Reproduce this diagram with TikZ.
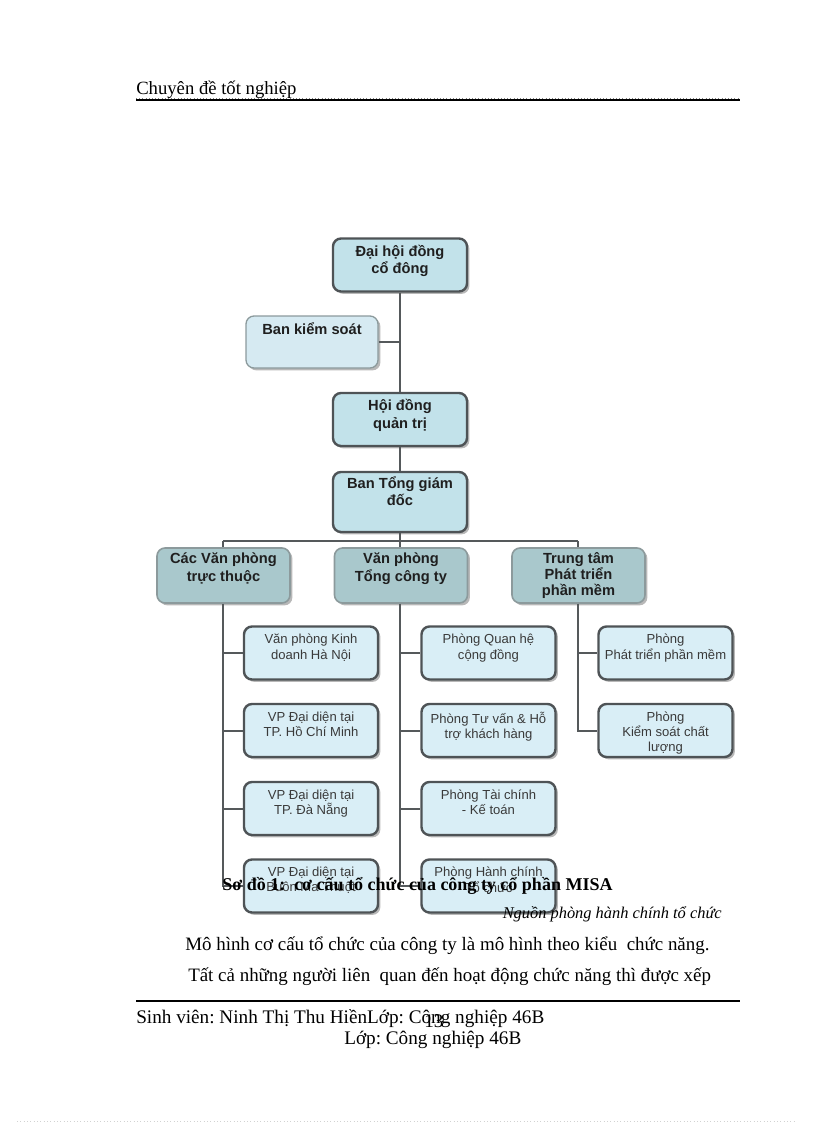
\documentclass[tikz,border=0pt]{standalone}
\usepackage{fontspec}
\setmainfont{Liberation Serif}
\newfontfamily\boxfont{Liberation Sans}
\usetikzlibrary{shadows}
\definecolor{topfill}{HTML}{C2E2EA}
\definecolor{midfill}{HTML}{A9C8CC}
\definecolor{leaffill}{HTML}{D9EEF6}
\definecolor{bksfill}{HTML}{D6EAF2}
\definecolor{edgedark}{HTML}{4E5356}
\definecolor{edgelight}{HTML}{8C9A9C}
\definecolor{linec}{HTML}{55595B}
\definecolor{leaftext}{HTML}{3A3A3A}
\tikzset{
  boxbase/.style={rectangle, rounded corners=6pt, inner sep=0pt,
    minimum width=100.5pt, minimum height=39.75pt,
    drop shadow={shadow xshift=1.8pt, shadow yshift=-1.8pt, fill=black, opacity=0.28}},
  topbox/.style={boxbase, fill=topfill, draw=edgedark, line width=1.8pt},
  bksbox/.style={boxbase, fill=bksfill, draw=edgelight, line width=1pt, minimum width=99pt, minimum height=39pt},
  midbox/.style={boxbase, fill=midfill, draw=edgelight, line width=1.2pt, minimum width=99.75pt, minimum height=41.25pt},
  leafbox/.style={boxbase, fill=leaffill, draw=edgedark, line width=1.8pt},
  boldtxt/.style={anchor=north, inner sep=0pt, align=center, text=black!88,
    font=\boxfont\bfseries\fontsize{11}{13.3}\selectfont},
  leaftxt/.style={anchor=north, inner sep=0pt, align=center, text=leaftext,
    font=\boxfont\fontsize{9.8}{11.4}\selectfont},
  conn/.style={draw=linec, line width=1.5pt},
  bodytxt/.style={inner sep=0pt, anchor=base west, font=\fontsize{14.2}{17}\selectfont},
  rule/.style={line width=1.5pt}
}
\begin{document}
\begin{tikzpicture}[x=0.75pt, y=-0.75pt]
\useasboundingbox (0,0) rectangle (816,1123);
% header
\node[bodytxt, font=\fontsize{14}{17}\selectfont] (hdr) at (136,95) {Chuyên đề tốt nghiệp};
\coordinate (hl) at (136,100);
\coordinate (hr) at (740,100);
\draw[rule] (hl) -- (hr);
\draw[line width=0.4pt, dotted, gray] (136,98) -- (740,98);

\coordinate (bus) at (400,541);
\coordinate (lv) at (223,541);
\coordinate (mv) at (400,541);
\coordinate (rv) at (578,541);

% top boxes
\node[topbox, label={[boldtxt, yshift=-5.5pt]north:{Đại hội đồng\\cổ đông}}] (dh) at (400,265) {};
\node[bksbox, label={[boldtxt, yshift=-5pt]north:{Ban kiểm soát}}] (bks) at (312,342) {};
\node[topbox, label={[boldtxt, yshift=-5.5pt]north:{Hội đồng\\quản trị}}] (hd) at (400,419.5) {};
\node[topbox, minimum height=45pt, label={[boldtxt, yshift=-4pt]north:{Ban Tổng giám\\đốc}}] (btgd) at (400,502) {};

% level 2
\node[midbox, label={[boldtxt, yshift=-4pt]north:{Các Văn phòng\\trực thuộc}}] (ca) at (223.5,575.5) {};
\node[midbox, label={[boldtxt, yshift=-4pt]north:{Văn phòng\\Tổng công ty}}] (cb) at (401,575.5) {};
\node[midbox, label={[boldtxt, yshift=-4pt, font=\boxfont\bfseries\fontsize{11}{12}\selectfont]north:{Trung tâm\\Phát triển\\phần mềm}}] (cc) at (578.5,575.5) {};

% leaves left
\node[leafbox, label={[leaftxt, yshift=-6.5pt]north:{Văn phòng Kinh\\doanh Hà Nội}}] (a1) at (311,653) {};
\node[leafbox, label={[leaftxt, yshift=-6.5pt]north:{VP Đại diện tại\\TP. Hồ Chí Minh}}] (a2) at (311,730.5) {};
\node[leafbox, label={[leaftxt, yshift=-6.5pt]north:{VP Đại diện tại\\TP. Đà Nẵng}}] (a3) at (311,808.5) {};
\node[leafbox, label={[leaftxt, yshift=-6.5pt]north:{VP Đại diện tại\\Buôn Ma Thuột}}] (a4) at (311,886) {};
% leaves middle
\node[leafbox, label={[leaftxt, yshift=-6.5pt]north:{Phòng Quan hệ\\cộng đồng}}] (b1) at (488.5,653) {};
\node[leafbox, label={[leaftxt, yshift=-6.5pt]north:{Phòng Tư vấn \& Hỗ\\trợ khách hàng}}] (b2) at (488.5,730.5) {};
\node[leafbox, label={[leaftxt, yshift=-6.5pt]north:{Phòng Tài chính\\- Kế toán}}] (b3) at (488.5,808.5) {};
\node[leafbox, label={[leaftxt, yshift=-6.5pt]north:{Phòng Hành chính\\Tổ chức}}] (b4) at (488.5,886) {};
% leaves right
\node[leafbox, label={[leaftxt, yshift=-6.5pt]north:{Phòng\\Phát triển phần mềm}}] (c1) at (665.5,653) {};
\node[leafbox, label={[leaftxt, yshift=-6.5pt]north:{Phòng\\Kiểm soát chất\\lượng}}] (c2) at (665.5,730.5) {};

% connectors
\draw[conn] (dh.south) -- (hd.north);
\draw[conn] (bks.east) -- (bks.east -| dh.south);
\draw[conn] (hd.south) -- (btgd.north);
\draw[conn] (btgd.south) -- (bus);
\draw[conn] (lv) -- (rv);
\draw[conn] (lv) -- (lv |- ca.north);
\draw[conn] (mv) -- (mv |- cb.north);
\draw[conn] (rv) -- (rv |- cc.north);
\draw[conn] (lv |- ca.south) -- (lv |- a4.west) -- (a4.west);
\draw[conn] (lv |- a1.west) -- (a1.west);
\draw[conn] (lv |- a2.west) -- (a2.west);
\draw[conn] (lv |- a3.west) -- (a3.west);
\draw[conn] (mv |- cb.south) -- (mv |- b4.west) -- (b4.west);
\draw[conn] (mv |- b1.west) -- (b1.west);
\draw[conn] (mv |- b2.west) -- (b2.west);
\draw[conn] (mv |- b3.west) -- (b3.west);
\draw[conn] (rv |- cc.south) -- (rv |- c2.west) -- (c2.west);
\draw[conn] (rv |- c1.west) -- (c1.west);

% caption and body text
\node[bodytxt, font=\bfseries\fontsize{13.5}{16}\selectfont] (cap) at (222,890) {Sơ đồ 1:\ \ cơ cấu tổ chức của công ty cổ phần MISA};
\node[inner sep=0pt, anchor=base east, font=\itshape\fontsize{12.3}{14}\selectfont] (src) at (722,918) {Nguồn phòng hành chính tổ chức};
\node[bodytxt] (p1) at (185,950) {Mô hình cơ cấu tổ chức của công ty là mô hình theo kiểu\ \ chức năng.};
\node[bodytxt] (p2) at (188,981) {Tất cả những người liên\ \ quan đến hoạt động chức năng thì được xếp};

% footer
\coordinate (fl) at (136,1001);
\coordinate (fr) at (740,1001);
\draw[rule] (fl) -- (fr);
\node[bodytxt, font=\fontsize{14.4}{17}\selectfont] (f1) at (136,1023) {Sinh viên:\ Ninh\ Thị Thu HiềnLớp:\ Công nghiệp\ 46B};
\node[bodytxt, font=\fontsize{14.4}{17}\selectfont] (pg) at (424,1027) {13};
\node[bodytxt, font=\fontsize{14.4}{17}\selectfont] (f2) at (344,1044) {Lớp:\ Công nghiệp\ 46B};
\draw[gray!35, dotted, line width=0.5pt] (17,1121) -- (795,1121);
\end{tikzpicture}
\end{document}
